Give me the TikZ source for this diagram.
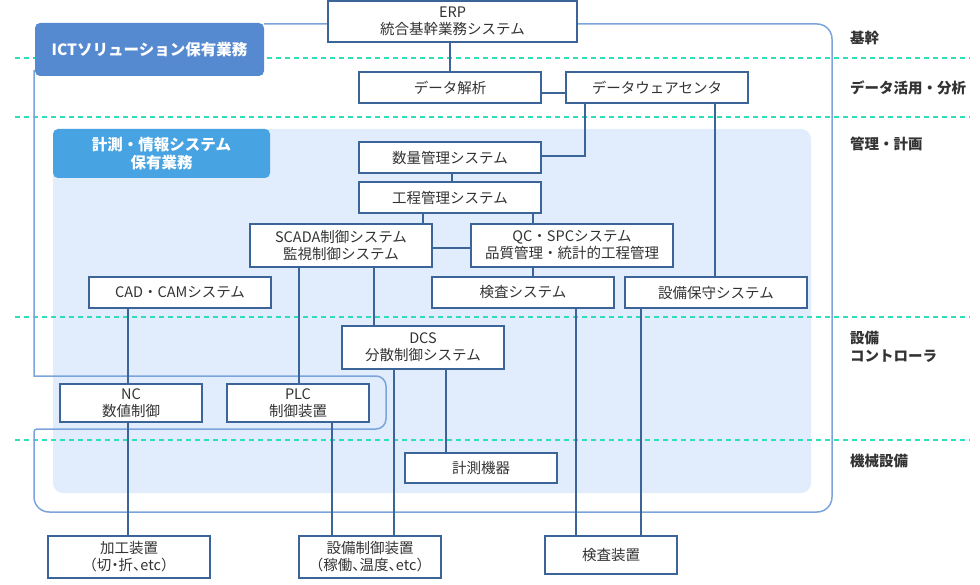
\documentclass[tikz,border=0pt]{standalone}
\usepackage{fontspec}
\setmainfont{Noto Sans CJK JP}
\newfontfamily\jpp[RawFeature=+palt]{Noto Sans CJK JP}
\newcommand{\hp}[1]{{\jpp #1}}
\definecolor{bx}{HTML}{3B6598}
\definecolor{outl}{HTML}{7BA5DA}
\definecolor{dsh}{HTML}{2EE0BA}
\definecolor{panel}{HTML}{E1ECFD}
\definecolor{lblA}{HTML}{5589D0}
\definecolor{lblB}{HTML}{47A3E1}
\definecolor{txt}{HTML}{333333}
\tikzset{
  box/.style={draw=bx, fill=white, line width=1.5pt, inner sep=0pt, align=center,
    text=txt, font={\fontsize{14.5}{17}\selectfont}},
  conn/.style={draw=bx, line width=1.5pt},
  layer/.style={draw=dsh, line width=1.5pt, dash pattern=on 5pt off 4pt},
  outline/.style={draw=outl, line width=1.5pt},
  tier/.style={anchor=west, inner sep=0pt, align=left, text=txt,
    font={\fontsize{14.5}{18}\selectfont\bfseries}},
  lbl/.style={inner sep=0pt, align=center, text=white, rounded corners=5pt,
    font={\fontsize{15.5}{18}\selectfont\bfseries}}
}
\begin{document}
\begin{tikzpicture}[x=1pt,y=-1pt]
\useasboundingbox (0,0) rectangle (980,585);
% panel
\fill[panel, rounded corners=10pt] (53,129) rectangle (811,493);
% layer lines
\foreach \yy in {58,117,317,440} \draw[layer] (15,\yy) -- (970,\yy);
% outline of ICT area
\draw[outline, rounded corners=15pt] (264,24) -- (832,24) -- (832,512) -- (34,512)
  [rounded corners=3pt] -- (34,429) [rounded corners=10pt] -- (386,429) -- (386,376)
  [sharp corners] -- (34,376) -- (34,70);
% labels
\node[lbl, fill=lblA, minimum width=229pt, minimum height=53pt] (ict) at (149.5,49.5) {\raisebox{1pt}{ICTソリューション保有業務}};
\node[lbl, fill=lblB, minimum width=217pt, minimum height=49pt] (keisokulbl) at (161.5,153.5) {計測・情報システム\\保有業務};
% boxes
\node[box, minimum width=249pt, minimum height=41pt] (erp) at (452.5,21.5) {ERP\\統合基幹業務システム};
\node[box, minimum width=182pt, minimum height=31pt] (dana) at (450,87.5) {データ解析};
\node[box, minimum width=182pt, minimum height=31pt] (dwc) at (657,87.5) {データウェアセンタ};
\node[box, minimum width=182pt, minimum height=31pt] (suryo) at (450,157.5) {数量管理システム};
\node[box, minimum width=182pt, minimum height=31pt] (kotei) at (450,197.5) {工程管理システム};
\node[box, minimum width=182pt, minimum height=43pt] (scada) at (341,245.5) {SCADA制御システム\\監視制御システム};
\node[box, minimum width=202pt, minimum height=43pt] (qc) at (572,245.5) {QC・SPCシステム\\品質管理・統計的工程管理};
\node[box, minimum width=182pt, minimum height=31pt] (kensa) at (523,292.5) {検査システム};
\node[box, minimum width=182pt, minimum height=31pt] (hoshu) at (716,292.5) {設備保守システム};
\node[box, minimum width=182pt, minimum height=31pt] (cad) at (180,292.5) {CAD・CAMシステム};
\node[box, minimum width=162pt, minimum height=43pt] (dcs) at (423,347.5) {DCS\\分散制御システム};
\node[box, minimum width=142pt, minimum height=38pt] (nc) at (131,403) {NC\\数値制御};
\node[box, minimum width=142pt, minimum height=38pt] (plc) at (298,403) {PLC\\制御装置};
\node[box, minimum width=152pt, minimum height=30pt] (keisoku) at (481,468) {計測機器};
\node[box, minimum width=162pt, minimum height=42pt] (kako) at (129,557) {加工装置\\（切\hp{・}折\hp{、}etc）};
\node[box, minimum width=142pt, minimum height=42pt] (setsubi) at (370,557) {設備制御装置\\（稼働\hp{、}温度\hp{、}etc）};
\node[box, minimum width=132pt, minimum height=38pt] (kensasochi) at (611,555) {検査装置};
% connectors
\draw[conn] (erp.south -| dana.north) -- (dana.north);
\draw[conn] ([yshift=-5.5pt]dana.east) -- ([yshift=-5.5pt]dwc.west);
\draw[conn] ([xshift=-72pt]dwc.south) |- ([yshift=1.5pt]suryo.east);
\draw[conn] ([xshift=58pt]dwc.south) -- ([xshift=-1pt]hoshu.north);
\draw[conn] ([xshift=2pt]suryo.south) -- ([xshift=2pt]kotei.north);
\draw[conn] ([xshift=-27pt]kotei.south) -- ([xshift=-27pt]kotei.south |- scada.north);
\draw[conn] ([xshift=83pt]kotei.south) -- ([xshift=83pt]kotei.south |- qc.north);
\draw[conn] ([yshift=-2.5pt]scada.east) -- ([yshift=-2.5pt]qc.west);
\draw[conn] ([xshift=-39pt]qc.south) -- ([xshift=10pt]kensa.north);
\draw[conn] ([xshift=-42pt]scada.south) -- ([xshift=1pt]plc.north);
\draw[conn] ([xshift=33pt]scada.south) -- ([xshift=-49pt]dcs.north);
\draw[conn] ([xshift=-52pt]cad.south) -- ([xshift=-3pt]nc.north);
\draw[conn] ([xshift=-3pt]nc.south) -- ([xshift=-1pt]kako.north);
\draw[conn] ([xshift=34pt]plc.south) -- ([xshift=-38pt]setsubi.north);
\draw[conn] ([xshift=-29pt]dcs.south) -- ([xshift=24pt]setsubi.north);
\draw[conn] ([xshift=23pt]dcs.south) -- ([xshift=-35pt]keisoku.north);
\draw[conn] ([xshift=53pt]kensa.south) -- ([xshift=-35pt]kensasochi.north);
\draw[conn] ([xshift=-75pt]hoshu.south) -- ([xshift=30pt]kensasochi.north);
% tier labels
\node[tier] (t1) at (850,38) {基幹};
\node[tier] (t2) at (850,88) {データ活用・分析};
\node[tier] (t3) at (850,144) {管理・計画};
\node[tier] (t4) at (850,347) {設備\\コントローラ};
\node[tier] (t5) at (850,461) {機械設備};
\end{tikzpicture}
\end{document}
